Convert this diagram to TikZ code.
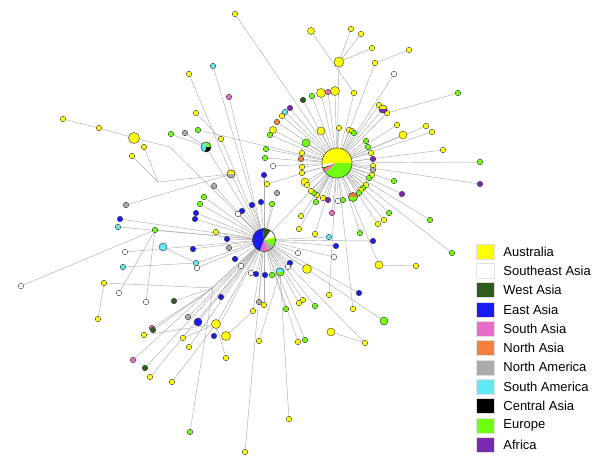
\documentclass[tikz,border=0pt]{standalone}
\usepackage{fontspec}
\setmainfont{Liberation Sans}
\usepackage{tikz}
\usetikzlibrary{positioning,backgrounds}

\definecolor{aus}{HTML}{FFFF00}
\definecolor{sea}{HTML}{FFFFFF}
\definecolor{wasia}{HTML}{2F5B1F}
\definecolor{easia}{HTML}{1A1AF5}
\definecolor{sasia}{HTML}{E86CC8}
\definecolor{nasia}{HTML}{F57F3D}
\definecolor{namer}{HTML}{AFAAAA}
\definecolor{samer}{HTML}{5FEAF5}
\definecolor{casia}{HTML}{000000}
\definecolor{europe}{HTML}{70FF10}
\definecolor{africa}{HTML}{7A2AB0}

\tikzset{
  hap/.style={circle, draw=black!80, line width=0.4pt, inner sep=0pt, minimum size=#1},
  hap/.default=5,
  link/.style={draw=black!32, line width=0.45pt},
  key/.style={minimum width=18pt, minimum height=15pt, inner sep=0pt, draw=black!12},
  keytext/.style={font=\fontsize{13}{15}\selectfont, inner sep=0pt}
}

% wedges of a pie node: node, radius, {from/to/colour}
\newcommand{\haplopie}[3]{%
  \foreach \a/\b/\c in {#3}
    \fill[\c] (#1.center) -- ++(-\a:#2) arc[start angle=-\a, end angle=-\b, radius=#2] -- cycle;
  \draw[black!80, line width=0.4pt] (#1.center) circle[radius=#2];
}

\begin{document}
\begin{tikzpicture}[x=1pt, y=-1pt]
\useasboundingbox (0,0) rectangle (600,460);

% Hubs
\node[hap=30] (h1) at (337,163) {};
\node[hap=23] (h2) at (264,240) {};
\begin{pgfonlayer}{background}
  \draw[link] (h1) -- (h2);
\end{pgfonlayer}

% Haplotypes joined to the Australian hub
\foreach \x/\y/\c/\s [count=\i] in {
  235/14/aus/5.5, 394/74/sea/5.5, 321/93/aus/9, 328/92/sasia/5.5, 335/91/aus/9,
  312/96/europe/5.5, 303/100/wasia/5.5, 379/105/aus/5.5, 397/125/aus/5.5, 403/135/aus/8,
  426/126/aus/5.5, 432/132/aus/5.5, 443/150/aus/5.5, 480/162/europe/5.5, 480/184/africa/5.5,
  321/131/aus/8, 306/143/europe/8, 339/128/aus/5.5, 349/130/aus/5.5, 352/131/aus/5.5,
  354/133/europe/5.5, 366/141/europe/5.5, 368/147/europe/5.5, 371/153/aus/5.5, 373/159/africa/5.5,
  373/166/aus/5.5, 373/170/namer/5.5, 372/175/aus/5.5, 369/178/europe/5.5, 394/181/europe/5.5,
  402/194/africa/5.5, 366/185/aus/5.5, 363/188/europe/5.5, 361/190/aus/5.5, 359/193/europe/5.5,
  343/200/europe/5.5, 338/201/sea/5.5, 328/200/africa/5.5, 323/198/aus/5.5, 317/195/aus/5.5,
  314/193/europe/5.5, 311/191/aus/5.5, 316/202/europe/5.5, 305/182/aus/8, 307/185/aus/5.5,
  389/213/europe/5.5, 384/220/aus/5.5, 378/224/aus/5.5, 430/220/europe/5.5, 332/213/sasia/5.5,
  302/153/aus/5.5, 301/159/nasia/5.5, 302/167/aus/5.5, 302/173/aus/5.5, 273/130/aus/7,
  270/135/europe/5.5, 277/122/nasia/5.5, 282/116/aus/5.5, 285/112/samer/5.5, 290/108/africa/5.5,
  266/149/europe/5.5, 265/158/europe/5.5, 273/166/sea/5.5, 267/184/aus/5.5, 198/130/europe/5.5,
  301/216/aus/5.5, 299/229/aus/5.5, 315/234/aus/5.5, 360/233/europe/5.5, 329/295/aus/5.5,
  353/309/aus/5.5, 452/253/europe/5.5}{
  \node[hap=\s, fill=\c] (a\i) at (\x,\y) {};
  \begin{pgfonlayer}{background}\draw[link] (h1) -- (a\i);\end{pgfonlayer}
}

% Haplotypes joined to the Asian hub
\foreach \x/\y/\c/\s [count=\i] in {
  213/66/samer/5.5, 229/97/sasia/5.5, 214/186/namer/5.5, 204/197/europe/5.5, 200/204/europe/5.5,
  196/213/easia/5.5, 195/219/easia/5.5, 120/219/easia/5.5, 118/227/samer/5.5, 252/205/easia/5.5,
  261/202/easia/5.5, 242/211/easia/5.5, 238/214/sea/5.5, 272/204/europe/5.5, 277/193/namer/5.5,
  264/175/easia/5.5, 216/232/aus/5.5, 227/239/easia/5.5, 229/248/namer/5.5, 193/249/easia/5.5,
  235/259/easia/5.5, 241/266/sea/5.5, 197/268/sea/5.5, 125/252/sea/5.5, 251/273/sea/5.5,
  256/274/easia/5.5, 265/275/easia/5.5, 272/275/europe/5.5, 298/253/sea/5.5, 290/263/easia/5.5,
  288/267/sea/5.5, 307/269/aus/9, 329/237/samer/5.5, 336/246/easia/5.5, 334/257/sea/5.5,
  373/241/easia/5.5, 359/293/easia/5.5, 384/321/europe/8, 303/300/aus/5.5, 299/303/aus/5.5,
  315/306/europe/5.5, 286/309/europe/5.5, 259/302/namer/5.5, 264/305/aus/5.5, 298/342/aus/5.5,
  305/340/europe/5.5, 188/317/namer/5.5, 198/322/easia/8, 221/297/easia/5.5, 214/336/easia/5.5,
  189/347/aus/5.5, 133/360/sasia/5.5, 145/368/wasia/5.5, 150/377/aus/5.5, 245/452/aus/5.5}{
  \node[hap=\s, fill=\c] (b\i) at (\x,\y) {};
  \begin{pgfonlayer}{background}\draw[link] (h2) -- (b\i);\end{pgfonlayer}
}

% Side branches
\node[hap=7, fill=aus] (topa) at (311,31) {};
\node[hap=5.5, fill=aus] (topb) at (354,93) {};
\node[hap=10, fill=aus] (topbig) at (339,62) {};
\node[hap=5.5, fill=aus] (topc) at (351,29) {};
\node[hap=5.5, fill=aus] (topd) at (361,34) {};
\node[hap=5.5, fill=aus] (tope) at (372,48) {};
\node[hap=5.5, fill=aus] (topf) at (409,50) {};
\node[hap=5.5, fill=aus] (topg) at (375,63) {};
\node[hap=5.5, fill=europe] (rima) at (458,93) {};
\node[hap=5.5, fill=aus] (rimb) at (387,113) {};
\node[hap=8] (piea) at (383,109) {};
\node[hap=9] (pieb) at (353,197) {};
\node[hap=8, fill=aus] (lowbig) at (379,265) {};
\node[hap=5.5, fill=aus] (lowend) at (416,266) {};

\node[hap=5.5, fill=aus] (wa) at (63,119) {};
\node[hap=5.5, fill=aus] (wb) at (99,128) {};
\node[hap=11, fill=aus] (wbig) at (134,138) {};
\coordinate (j1) at (170,147);
\node[hap=5.5, fill=aus] (wc) at (144,147) {};
\node[hap=5.5, fill=aus] (wd) at (132,156) {};
\coordinate (j2) at (158,182);
\node[hap=8] (piec) at (231,174) {};
\node[hap=5.5, fill=namer] (we) at (126,205) {};
\node[hap=5.5, fill=aus] (wf) at (189,74) {};
\node[hap=5.5, fill=aus] (wg) at (196,113) {};
\node[hap=5.5, fill=aus] (wh) at (221,139) {};
\node[hap=5.5, fill=europe] (wi) at (171,134) {};
\node[hap=5.5, fill=namer] (wj) at (185,133) {};
\node[hap=10] (pied) at (206,147) {};

\node[hap=5.5, fill=europe] (sa) at (155,230) {};
\node[hap=5.5, fill=sea] (sb) at (21,286) {};
\node[hap=5.5, fill=sea] (sc) at (119,293) {};
\node[hap=5.5, fill=sea] (sd) at (146,302) {};
\node[hap=8, fill=samer] (se) at (163,247) {};
\node[hap=5.5, fill=samer] (sf) at (196,263) {};
\node[hap=5.5, fill=samer] (sg) at (123,267) {};
\node[hap=5.5, fill=aus] (sh) at (104,283) {};
\node[hap=5.5, fill=aus] (si) at (98,319) {};
\coordinate (j3) at (213,288);
\node[hap=5.5, fill=wasia] (sj) at (174,301) {};
\node[hap=5.5, fill=sasia] (sk) at (152,328) {};
\node[hap=5.5, fill=wasia] (sl) at (153,330) {};
\node[hap=5.5, fill=europe] (sm) at (190,432) {};
\node[hap=9, fill=aus] (bigx) at (216,324) {};
\node[hap=5.5, fill=aus] (sn) at (144,335) {};
\node[hap=5.5, fill=aus] (so) at (183,338) {};
\node[hap=5.5, fill=aus] (sp) at (172,382) {};
\node[hap=5.5, fill=aus] (sq) at (226,358) {};
\node[hap=9, fill=aus] (bigy) at (226,336) {};
\node[hap=5.5, fill=aus] (sr) at (253,311) {};
\node[hap=8] (piee) at (280,272) {};
\node[hap=5.5, fill=aus] (ss) at (259,341) {};
\node[hap=5.5, fill=aus] (st) at (289,419) {};
\node[hap=8, fill=aus] (bigz) at (331,332) {};
\node[hap=5.5, fill=aus] (su) at (365,343) {};

\begin{pgfonlayer}{background}
  \draw[link] (topa) -- (topb) -- (h1);
  \foreach \n in {topc,topd,tope} \draw[link] (\n) -- (topbig);
  \draw[link] (topbig) -- (h1);
  \draw[link] (topf) -- (topg) -- (h1);
  \draw[link] (rima) -- (rimb) -- (h1);
  \draw[link] (piea) -- (h1);
  \draw[link] (pieb) -- (h1);
  \draw[link] (lowend) -- (lowbig) -- (h1);
  \draw[link] (wa) -- (wb) -- (wbig) -- (j1) -- (h2);
  \draw[link] (wc) -- (j2);
  \draw[link] (wd) -- (j2);
  \draw[link] (j2) -- (piec) -- (h2);
  \draw[link] (we) -- (piec);
  \draw[link] (wf) -- (piec);
  \draw[link] (wg) -- (wh) -- (h2);
  \draw[link] (wi) -- (pied);
  \draw[link] (wj) -- (pied);
  \draw[link] (pied) -- (h2);
  \foreach \n in {sb,sc,sd} \draw[link] (\n) -- (sa);
  \draw[link] (sa) -- (h2);
  \draw[link] (se) -- (sf) -- (h2);
  \draw[link] (sg) -- (sf);
  \draw[link] (si) -- (sh) -- (j3) -- (h2);
  \foreach \n in {sj,sk,sl,sm} \draw[link] (\n) -- (j3);
  \foreach \n in {sn,so,sp,sq} \draw[link] (\n) -- (bigx);
  \draw[link] (bigx) -- (h2);
  \draw[link] (bigy) -- (sr) -- (h2);
  \draw[link] (ss) -- (piee);
  \draw[link] (st) -- (piee);
  \draw[link] (piee) -- (h2);
  \draw[link] (bigz) -- (su) -- (h2);
\end{pgfonlayer}

% Pie charts
\haplopie{h1}{15}{0/184/aus, 184/198/sea, 198/203/wasia, 203/211/nasia, 211/216/sasia, 216/222/namer, 222/360/europe}
\haplopie{h2}{11.5}{95/250/easia, 250/290/sasia, 290/325/namer, 325/370/europe, 10/18/aus, 18/55/sea, 55/95/wasia}
\haplopie{piea}{4}{0/180/aus, 180/360/africa}
\haplopie{pieb}{4.5}{0/180/nasia, 180/360/europe}
\haplopie{piec}{4}{0/180/aus, 180/360/namer}
\haplopie{pied}{5}{0/100/europe, 100/260/samer, 260/360/casia}
\haplopie{piee}{4}{0/180/samer, 180/360/europe}

% Legend
\foreach \lab/\c [count=\k from 0] in {Australia/aus, Southeast Asia/sea, West Asia/wasia,
    East Asia/easia, South Asia/sasia, North Asia/nasia, North America/namer,
    South America/samer, Central Asia/casia, Europe/europe, Africa/africa}{
  \node[key, fill=\c] (key\k) at (485,{251.5+19.3*\k}) {};
  \node[keytext, right=9pt of key\k] (lab\k) {\lab};
}
\end{tikzpicture}
\end{document}
